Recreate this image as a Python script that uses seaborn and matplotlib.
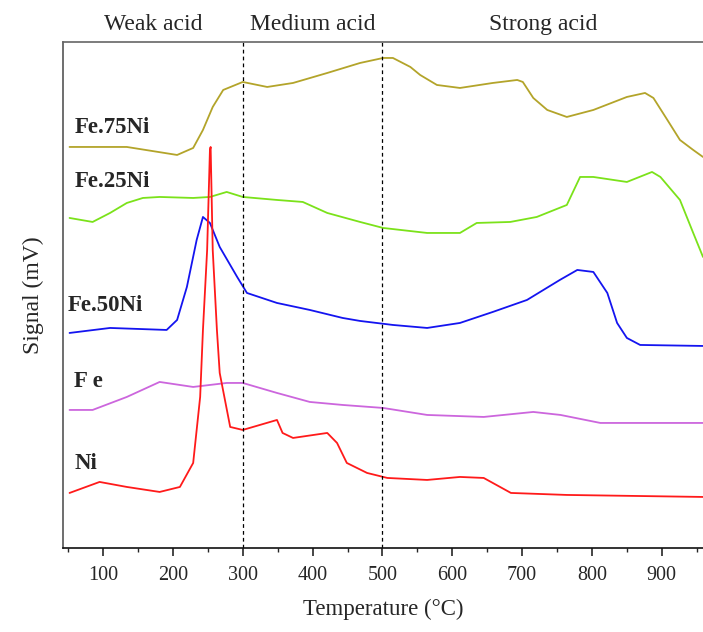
import matplotlib
matplotlib.use("Agg")
import matplotlib.pyplot as plt
import seaborn as sns
import pandas as pd
from matplotlib.ticker import MultipleLocator

sns.set_style("ticks")
plt.rcParams['font.family'] = ['Liberation Serif', 'DejaVu Serif']

# Temperature (°C) / signal (arbitrary mV units, offset stacked)
t_fe75ni = [52, 134, 206, 229, 243, 257, 272, 300, 335, 372, 421, 468, 501, 515, 540, 554, 578, 611,
            658, 693, 701, 716, 736, 764, 802, 850, 876, 888, 908, 926, 945, 959]
s_fe75ni = [413, 413, 405, 412, 430, 453, 470, 478, 473, 477, 487, 497, 502, 502, 493, 485, 475, 472,
            477, 480, 478, 462, 450, 443, 450, 463, 467, 462, 440, 420, 410, 403]

t_fe25ni = [52, 85, 110, 134, 157, 181, 229, 253, 277, 300, 349, 386, 421, 468, 501, 564, 611, 635,
            683, 721, 764, 783, 802, 850, 886, 898, 926, 945, 959]
s_fe25ni = [342, 338, 347, 357, 362, 363, 362, 363, 368, 363, 360, 358, 347, 338, 332, 327, 327, 337,
            338, 343, 355, 383, 383, 378, 388, 383, 360, 327, 303]

t_fe50ni = [52, 110, 191, 206, 220, 234, 243, 253, 267, 292, 306, 349, 396, 443, 468, 515, 564, 611,
            658, 707, 754, 779, 802, 822, 836, 850, 869, 959]
s_fe50ni = [227, 232, 230, 240, 273, 320, 343, 337, 313, 283, 267, 257, 250, 242, 239, 235, 232, 237,
            248, 260, 280, 290, 288, 267, 237, 222, 215, 214]

t_fe = [52, 85, 134, 181, 229, 277, 300, 349, 396, 443, 501, 564, 645, 716, 755, 812, 860, 959]
s_fe = [150, 150, 163, 178, 173, 177, 177, 167, 158, 155, 152, 145, 143, 148, 145, 137, 137, 137]

t_ni = [52, 95, 134, 181, 210, 229, 239, 243, 249, 253, 254, 257, 263, 267, 282, 300, 349, 357, 372,
        421, 435, 449, 478, 507, 564, 611, 645, 684, 764, 959]
s_ni = [67, 78, 73, 68, 73, 97, 163, 230, 310, 410, 413, 310, 230, 187, 133, 130, 140, 127, 122,
        127, 117, 97, 87, 82, 80, 83, 82, 67, 65, 63]

series_names = ["Fe.75Ni", "Fe.25Ni", "Fe.50Ni", "F e", "Ni"]
series_t = [t_fe75ni, t_fe25ni, t_fe50ni, t_fe, t_ni]
series_s = [s_fe75ni, s_fe25ni, s_fe50ni, s_fe, s_ni]
colors = ["#b3a42a", "#7be21a", "#1414f0", "#cc66dd", "#ff1a1a"]
label_x = [59, 59, 49, 59, 59]
label_y = [432, 378, 254, 178, 96]

region_names = ["Weak acid", "Medium acid", "Strong acid"]
region_centers = [172, 400, 730]
boundaries = [300, 500]

fig = plt.figure(figsize=(7.03, 6.32), dpi=100)
ax = fig.add_axes([0.0896, 0.133, 0.9104, 0.8006])

for name, t, s, c in zip(series_names, series_t, series_s, colors):
    df = pd.DataFrame({"T": t, "S": s})
    sns.lineplot(data=df, x="T", y="S", ax=ax, color=c, linewidth=1.3,
                 sort=False, estimator=None)

for b in boundaries:
    ax.axvline(b, color="black", linestyle=(0, (3, 2.5)), linewidth=0.9)

ax.set_xlim(42.6, 959)
ax.set_ylim(12, 518)
ax.xaxis.set_major_locator(MultipleLocator(100))
ax.xaxis.set_minor_locator(MultipleLocator(50))
ax.set_xticks([100, 200, 300, 400, 500, 600, 700, 800, 900])
ax.tick_params(axis="x", which="major", direction="out", length=6, width=1.2, labelsize=14.5, pad=7)
ax.tick_params(axis="x", which="minor", direction="out", length=3, width=1.0)
ax.set_yticks([])
ax.tick_params(axis="y", left=False, labelleft=False)

for side in ["left", "top", "bottom"]:
    ax.spines[side].set_visible(True)
    ax.spines[side].set_linewidth(1.2)
ax.spines["left"].set_color("#555555")
ax.spines["top"].set_color("#666666")
ax.spines["bottom"].set_color("#111111")
ax.spines["right"].set_visible(False)

ax.set_xlabel("Temperature (°C)", fontsize=16.5, labelpad=10)
ax.set_ylabel("Signal (mV)", fontsize=17, labelpad=14)

for name, lx, ly in zip(series_names, label_x, label_y):
    ax.text(lx, ly, name, fontsize=16.5, fontweight="bold", va="center", ha="left")

for name, cx in zip(region_names, region_centers):
    ax.text(cx, 1.0 + 17 / 506, name, transform=ax.get_xaxis_transform(),
            fontsize=17, ha="center", va="center", clip_on=False)

fig.savefig("out.png", dpi=100)
